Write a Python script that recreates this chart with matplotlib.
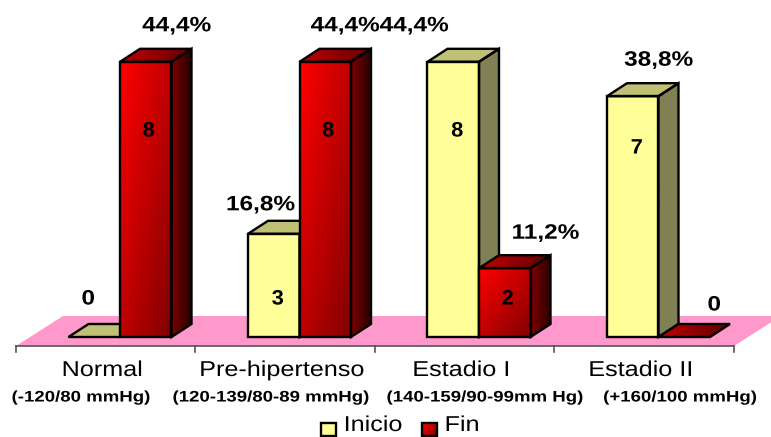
import matplotlib
matplotlib.use('Agg')
import matplotlib.pyplot as plt
import matplotlib.patheffects as pe
from matplotlib.patches import Polygon
from matplotlib.transforms import Affine2D
import numpy as np

plt.rcParams['font.family'] = ['Liberation Sans', 'DejaVu Sans']

categories = ['Normal', 'Pre-hipertenso', 'Estadio I', 'Estadio II']
ranges = ['(-120/80 mmHg)', '(120-139/80-89 mmHg)', '(140-159/90-99mm Hg)', '(+160/100 mmHg)']
inicio = [0, 3, 8, 7]
fin = [8, 8, 2, 0]
inicio_pct = ['0', '16,8%', '44,4%', '38,8%']
fin_pct = ['44,4%', '44,4%', '11,2%', '0']

# pixel scale of the picture: one category / one unit of value
PX_X = 179.5
PX_Y = 34.4
BASE_X = 16
BASE_Y = 337
W, H = 771, 437

BAR_OFF = 52.5 / PX_X
BAR_W = 51.5 / PX_X
DX = 20 / PX_X
DY = 13 / PX_Y

# label offsets in pixels, from the top centre of each bar
inicio_off = [(-6, 39), (-13, 30), (-39, 37), (26, 37)]
fin_off = [(31, 37), (20, 37), (41, 36), (30, 33)]
# height of the value printed inside the bars, in pixels above the base
inicio_inner = [None, 39, 207, 190]
fin_inner = [207, 207, 39, None]


class Stretch(pe.AbstractPathEffect):
    # the original text is stretched sideways
    def __init__(self, sx):
        super().__init__()
        self.sx = sx

    def draw_path(self, renderer, gc, tpath, affine, rgbFace=None):
        box = tpath.transformed(affine).get_extents()
        cx = (box.x0 + box.x1) / 2
        new = affine + Affine2D().translate(-cx, 0).scale(self.sx, 1).translate(cx, 0)
        renderer.draw_path(gc, tpath, new, rgbFace)


def px(x, y):
    return (x - BASE_X) / PX_X, (BASE_Y - y) / PX_Y


def label(x, y, s, size, bold=False, sx=1.17):
    ax.text(*px(x, y - 1), s, fontsize=size, fontweight='bold' if bold else 'normal',
            ha='center', va='center_baseline', color='black', clip_on=False,
            path_effects=[Stretch(sx)], zorder=40)


def face(points, c0, c1, mode='diag', z=5):
    # polygon filled with a gradient, clipped from an image
    points = np.array(points)
    x0, y0 = points.min(axis=0)
    x1, y1 = points.max(axis=0)
    u, v = np.meshgrid(np.linspace(0, 1, 64), np.linspace(0, 1, 64))
    t = {'diag': (u + v) / 2, 'hor': u}[mode]
    c0 = np.array(matplotlib.colors.to_rgb(c0))
    c1 = np.array(matplotlib.colors.to_rgb(c1))
    img = c0 + (c1 - c0) * t[..., None]
    poly = Polygon(points, closed=True, fc='none', ec='black', lw=1.7, joinstyle='miter', zorder=z + 0.1)
    ax.add_patch(poly)
    im = ax.imshow(img, extent=(x0, x1, y0, y1), origin='upper', aspect='auto', zorder=z, interpolation='bilinear')
    im.set_clip_path(Polygon(points, closed=True, transform=ax.transData))


def bar3d(x, val, style, z):
    x1 = x + BAR_W
    if val > 0:
        face([(x1, 0), (x1 + DX, DY), (x1 + DX, val + DY), (x1, val)], *style['side'], mode='hor', z=z)
        face([(x, val), (x + DX, val + DY), (x1 + DX, val + DY), (x1, val)], *style['top'], mode='hor', z=z)
        face([(x, 0), (x1, 0), (x1, val), (x, val)], *style['front'], z=z)
    else:
        face([(x, 0), (x + DX, DY), (x1 + DX, DY), (x1, 0)], *style['top'], mode='hor', z=z)


yellow = {'front': ('#FFFF99', '#FFFF99'), 'top': ('#C0C076', '#C0C076'), 'side': ('#808054', '#808054')}
red = {'front': ('#FF0000', '#800000'), 'top': ('#C00000', '#600000'), 'side': ('#800000', '#280000')}

fig = plt.figure(figsize=(W / 100, H / 100), dpi=100)
ax = fig.add_axes([0, 0, 1, 1])
ax.axis('off')

# floor of the chart
ax.add_patch(Polygon([px(16, 346), px(734, 346), px(781, 316), px(63, 316)], closed=True, fc='#FF99CC', ec='none', zorder=1))
ax.plot(*zip(px(16, 346), px(734, 346)), color='#555555', lw=1.2, zorder=2, clip_on=False)
for i in range(len(categories) + 1):
    ax.plot([i, i], [px(0, 346)[1], px(0, 352)[1]], color='#555555', lw=1.2, zorder=2)

for i in range(len(categories)):
    xa = i + BAR_OFF
    xb = xa + BAR_W
    bar3d(xa, inicio[i], yellow, 5 + i * 2)
    bar3d(xb, fin[i], red, 6 + i * 2)

    cx = BASE_X + (xa + BAR_W / 2) * PX_X
    ty = BASE_Y - inicio[i] * PX_Y
    label(cx + inicio_off[i][0], ty - inicio_off[i][1], inicio_pct[i], 15, True)
    if inicio_inner[i] is not None:
        label(cx + 4, BASE_Y - inicio_inner[i], str(inicio[i]), 15, True, 1.05)

    cx = BASE_X + (xb + BAR_W / 2) * PX_X
    ty = BASE_Y - fin[i] * PX_Y
    label(cx + fin_off[i][0], ty - fin_off[i][1], fin_pct[i], 15, True)
    if fin_inner[i] is not None:
        label(cx + 3, BASE_Y - fin_inner[i], str(fin[i]), 15, True, 1.05)

    label(BASE_X + (i + 0.48) * PX_X, 369, categories[i], 15.5)

for s, x in zip(ranges, [81, 271, 485, 680]):
    label(x, 397, s, 11, True, 1.22)

# legend
face([px(321, 436), px(336, 436), px(336, 423), px(321, 423)], '#FFFF99', '#FFFF99', z=30)
face([px(422, 436), px(437, 436), px(437, 423), px(422, 423)], '#FF0000', '#800000', z=30)
label(373, 424, 'Inicio', 15.5)
label(462, 424, 'Fin', 15.5)

ax.set_xlim(-BASE_X / PX_X, (W - BASE_X) / PX_X)
ax.set_ylim((BASE_Y - H) / PX_Y, BASE_Y / PX_Y)
fig.savefig('out.png', dpi=100)
